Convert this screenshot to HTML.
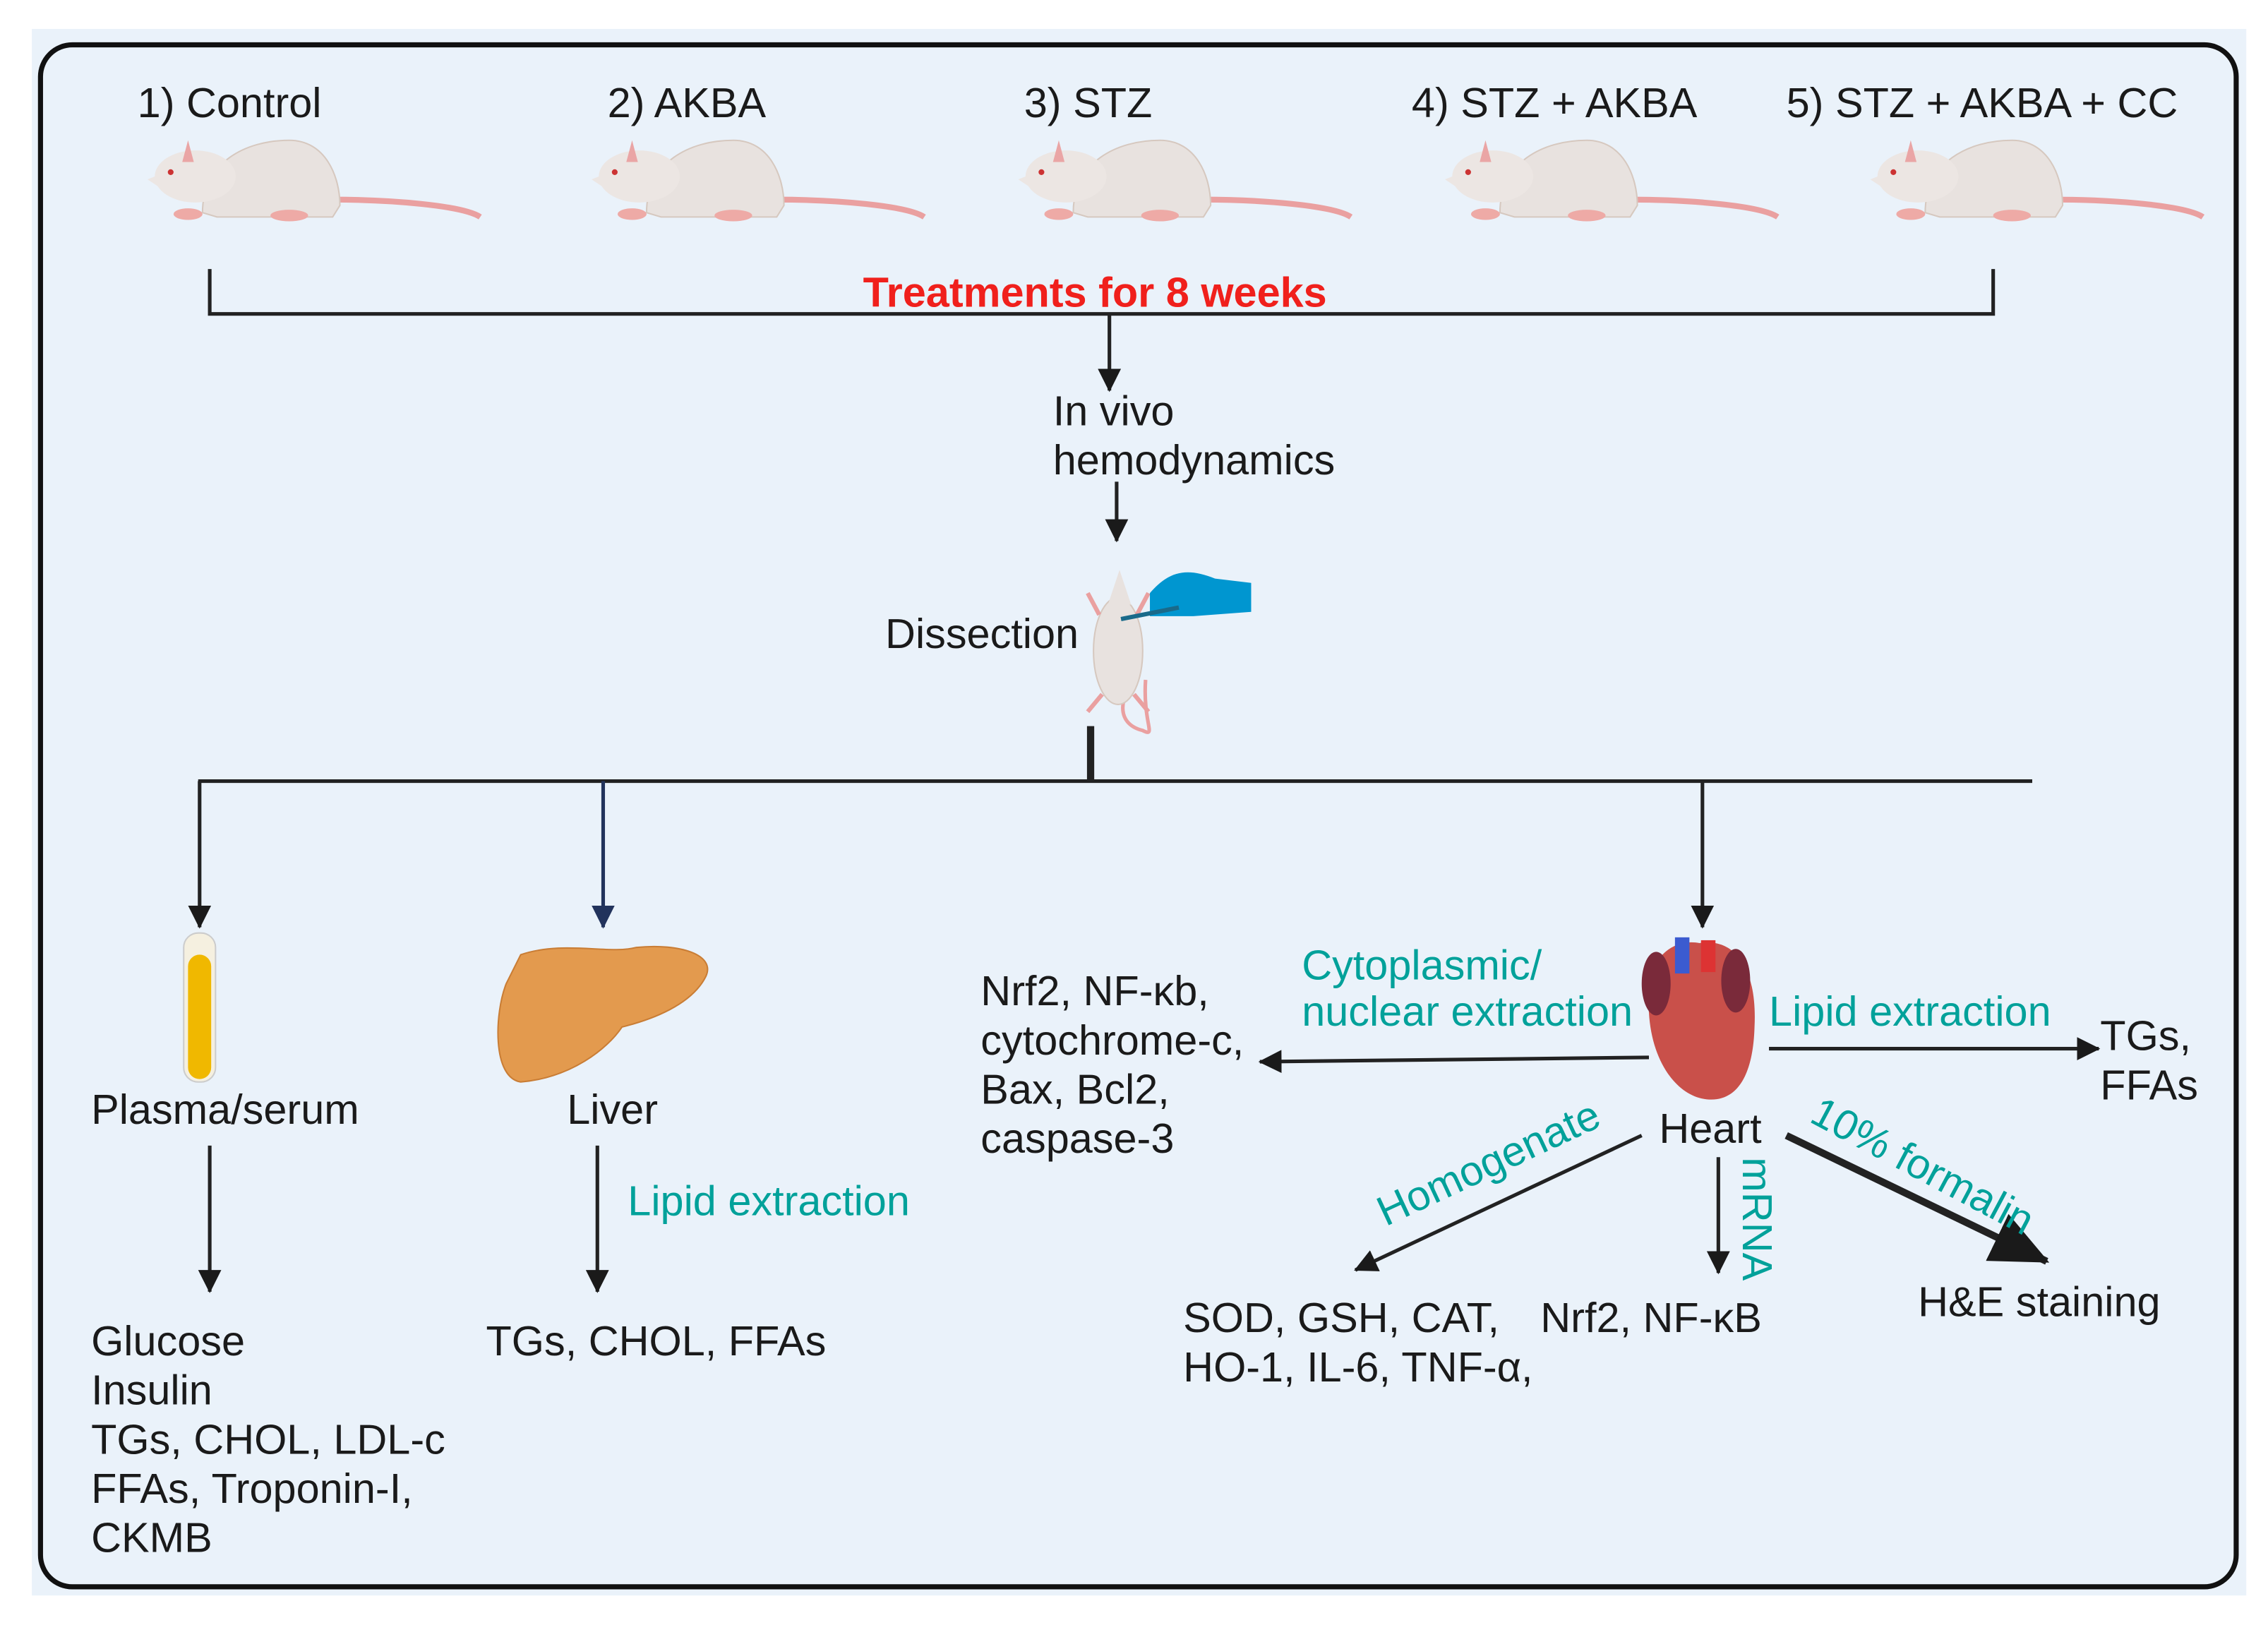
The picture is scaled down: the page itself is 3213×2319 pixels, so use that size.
<!DOCTYPE html>
<html><head><meta charset="utf-8"><style>
html,body{margin:0;padding:0;background:#fff;}
svg{display:block;}
text{font-family:"Liberation Sans",sans-serif;font-size:29px;fill:#1a1a1a;}
.t{fill:#00a19a;}
</style></head><body>
<svg width="3213" height="2319" viewBox="0 0 1568 1131.7" preserveAspectRatio="none" xmlns="http://www.w3.org/2000/svg">
<defs>
<marker id="ahb" markerWidth="16" markerHeight="16" refX="15" refY="8" orient="auto" markerUnits="userSpaceOnUse" viewBox="0 0 16 16"><path d="M0,0 L16,8 L0,16 z" fill="#1a1a1a"/></marker>
<marker id="ahn" markerWidth="16" markerHeight="16" refX="15" refY="8" orient="auto" markerUnits="userSpaceOnUse" viewBox="0 0 16 16"><path d="M0,0 L16,8 L0,16 z" fill="#22335c"/></marker>
<marker id="big" markerWidth="40" markerHeight="40" refX="38" refY="20" orient="auto" markerUnits="userSpaceOnUse" viewBox="0 0 40 40"><path d="M0,2 L40,20 L0,38 z" fill="#1a1a1a"/></marker>
<g id="rat">
 <path d="M130,46 C170,46 220,50 232,58" stroke="#eaa0a0" stroke-width="4" fill="none"/>
 <path d="M40,55 C40,20 70,5 100,5 C125,5 135,30 135,50 L130,58 L50,58 z" fill="#e8e2df" stroke="#d6c8bf" stroke-width="1"/>
 <ellipse cx="35" cy="30" rx="28" ry="18" fill="#ece6e3"/>
 <path d="M12,28 L2,32 L14,40 z" fill="#ece6e3"/>
 <path d="M30,5 L34,20 L26,20 z" fill="#eaa5a5"/>
 <circle cx="18" cy="27" r="2" fill="#c33"/>
 <ellipse cx="30" cy="56" rx="10" ry="4" fill="#eeaaa6"/>
 <ellipse cx="100" cy="57" rx="13" ry="4" fill="#eeaaa6"/>
</g>
</defs>
<rect x="22" y="20" width="1531" height="1083" fill="#eaf2fa"/>
<rect x="28" y="31" width="1518" height="1066" rx="22" fill="none" stroke="#111" stroke-width="3.5"/>

<text x="95" y="81">1) Control</text>
<text x="420" y="81">2) AKBA</text>
<text x="708" y="81">3) STZ</text>
<text x="976" y="81">4) STZ + AKBA</text>
<text x="1235" y="81">5) STZ + AKBA + CC</text>
<use href="#rat" x="100" y="92"/>
<use href="#rat" x="407" y="92"/>
<use href="#rat" x="702" y="92"/>
<use href="#rat" x="997" y="92"/>
<use href="#rat" x="1291" y="92"/>

<path d="M145,186 V217 H1378 V186" fill="none" stroke="#222" stroke-width="2.5"/>
<text x="757" y="212" text-anchor="middle" style="fill:#f0201c;font-weight:bold;font-size:29px">Treatments for 8 weeks</text>
<line x1="767" y1="217" x2="767" y2="270" stroke="#222" stroke-width="2.5" marker-end="url(#ahb)"/>
<text x="728" y="294">In vivo</text>
<text x="728" y="328">hemodynamics</text>
<line x1="772" y1="333" x2="772" y2="374" stroke="#222" stroke-width="2.5" marker-end="url(#ahb)"/>
<text x="612" y="448">Dissection</text>
<path d="M792,470 C790,500 800,510 790,505 C770,500 775,480 785,470" fill="none" stroke="#eaa0a0" stroke-width="2.5"/>
<ellipse cx="773" cy="450" rx="17" ry="37" fill="#e8e2df" stroke="#d6c8bf"/>
<path d="M766,418 L774,394 L782,418 z" fill="#e8e2df"/>
<path d="M760,425 L752,410 M786,425 L794,410 M762,480 L752,492 M784,480 L794,492" stroke="#eaa0a0" stroke-width="3"/>
<path d="M795,410 C808,395 820,392 840,400 L865,403 L865,423 L825,426 L795,426 z" fill="#0096d0"/>
<line x1="775" y1="428" x2="815" y2="420" stroke="#1a6a8a" stroke-width="3"/>
<line x1="754" y1="502" x2="754" y2="540" stroke="#222" stroke-width="5"/>
<line x1="137" y1="540" x2="1405" y2="540" stroke="#222" stroke-width="2.5"/>
<line x1="138" y1="540" x2="138" y2="641" stroke="#222" stroke-width="2.5" marker-end="url(#ahb)"/>
<line x1="417" y1="540" x2="417" y2="641" stroke="#22335c" stroke-width="2.5" marker-end="url(#ahn)"/>
<line x1="1177" y1="540" x2="1177" y2="641" stroke="#222" stroke-width="2.5" marker-end="url(#ahb)"/>

<rect x="127" y="645" width="22" height="103" rx="10" fill="#f5f0e0" stroke="#ccc"/>
<rect x="130" y="660" width="16" height="86" rx="8" fill="#f0b800"/>
<text x="63" y="777">Plasma/serum</text>
<line x1="145" y1="792" x2="145" y2="893" stroke="#222" stroke-width="2.5" marker-end="url(#ahb)"/>
<text x="63" y="937">Glucose</text>
<text x="63" y="971">Insulin</text>
<text x="63" y="1005">TGs, CHOL, LDL-c</text>
<text x="63" y="1039">FFAs, Troponin-I,</text>
<text x="63" y="1073">CKMB</text>

<path d="M360,660 C390,650 420,660 440,655 C470,652 495,660 488,675 C478,695 450,705 430,710 C420,725 395,745 360,748 C340,745 342,700 350,680 z" fill="#e39a4e" stroke="#c97d35"/>
<text x="392" y="777">Liver</text>
<line x1="413" y1="792" x2="413" y2="893" stroke="#222" stroke-width="2.5" marker-end="url(#ahb)"/>
<text x="434" y="840" class="t">Lipid extraction</text>
<text x="336" y="937">TGs, CHOL, FFAs</text>

<path d="M1140,700 C1135,665 1155,648 1175,652 C1200,648 1215,670 1213,710 C1212,745 1200,762 1180,760 C1160,758 1142,735 1140,700 z" fill="#c9504a"/>
<rect x="1158" y="648" width="10" height="25" fill="#3b5bd0"/>
<rect x="1176" y="650" width="10" height="22" fill="#d33"/>
<ellipse cx="1145" cy="680" rx="10" ry="22" fill="#7a2a3a"/>
<ellipse cx="1200" cy="678" rx="10" ry="22" fill="#7a2a3a"/>
<text x="1147" y="790">Heart</text>

<line x1="1140" y1="731" x2="871" y2="734" stroke="#222" stroke-width="2.5" marker-end="url(#ahb)"/>
<text x="900" y="677" class="t">Cytoplasmic/</text>
<text x="900" y="709" class="t">nuclear extraction</text>
<text x="678" y="695">Nrf2, NF-κb,</text>
<text x="678" y="729">cytochrome-c,</text>
<text x="678" y="763">Bax, Bcl2,</text>
<text x="678" y="797">caspase-3</text>

<line x1="1223" y1="725" x2="1451" y2="725" stroke="#222" stroke-width="2.5" marker-end="url(#ahb)"/>
<text x="1223" y="709" class="t">Lipid extraction</text>
<text x="1452" y="726">TGs,</text>
<text x="1452" y="760">FFAs</text>

<line x1="1135" y1="785" x2="937" y2="878" stroke="#222" stroke-width="2.5" marker-end="url(#ahb)"/>
<text x="0" y="0" class="t" transform="translate(958,848) rotate(-25)">Homogenate</text>
<line x1="1188" y1="800" x2="1188" y2="880" stroke="#222" stroke-width="2.5" marker-end="url(#ahb)"/>
<text x="0" y="0" class="t" transform="translate(1205,800) rotate(90)">mRNA</text>
<line x1="1235" y1="785" x2="1415" y2="872" stroke="#222" stroke-width="5" marker-end="url(#big)"/>
<text x="0" y="0" class="t" transform="translate(1250,775) rotate(28)">10% formalin</text>

<text x="818" y="921">SOD, GSH, CAT,</text>
<text x="818" y="955">HO-1, IL-6, TNF-α,</text>
<text x="1065" y="921">Nrf2, NF-κB</text>
<text x="1326" y="910">H&amp;E staining</text>
</svg>
</body></html>
